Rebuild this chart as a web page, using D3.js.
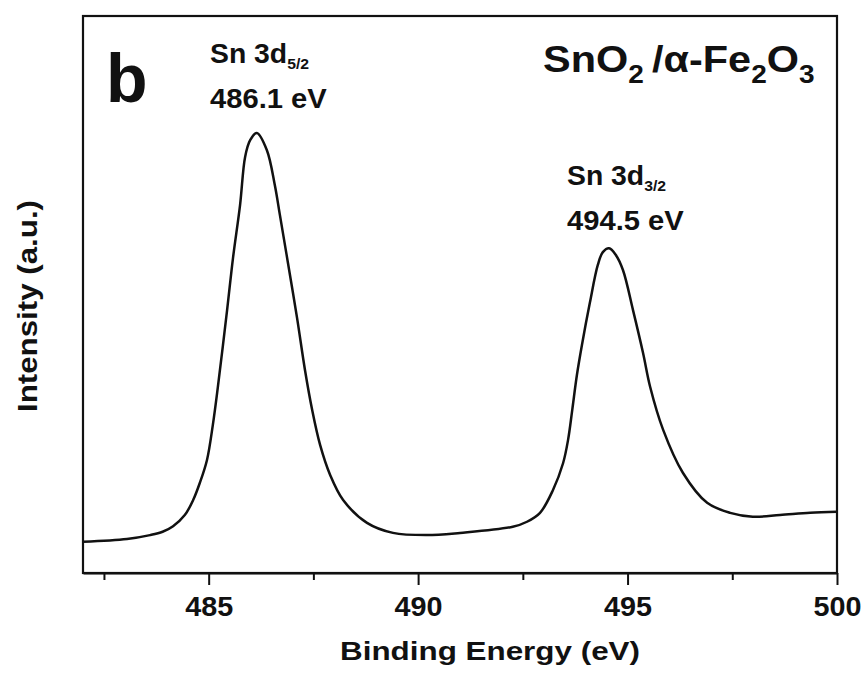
<!DOCTYPE html>
<html>
<head>
<meta charset="utf-8">
<script src="https://cdn.jsdelivr.net/npm/d3@7"></script>
<style>
  body { margin: 0; background: #fff; }
  text { font-family: "Liberation Sans", Arial, sans-serif; font-weight: bold; fill: #111; }
</style>
</head>
<body>
<div id="vis-container"></div>
<script>
// Spectrum (binding energy in eV, intensity in a.u.)
const energy = [482.0, 483.05, 483.6, 483.9, 484.15, 484.43, 484.63, 484.79, 484.96, 485.10, 485.22,
                485.44, 485.58, 485.75, 485.87, 485.99, 486.15, 486.39, 486.58, 486.70, 486.89,
                487.11, 487.30, 487.47, 487.66, 487.90, 488.21, 488.78, 489.40, 490.21, 491.0,
                492.26, 492.6, 492.91, 493.22, 493.46, 493.58, 493.68, 493.79, 493.91, 494.10, 494.29,
                494.41, 494.56, 494.72, 494.89, 495.13, 495.37, 495.54, 495.85, 496.32, 496.90,
                497.45, 497.99, 498.64, 499.36, 500.0];
const intensity = [56, 61, 68, 74, 84, 104, 131, 162, 203, 266, 334,
                   472, 565, 661, 747, 777, 790, 759, 696, 643, 558,
                   458, 364, 293, 230, 176, 131, 90, 72, 68, 72,
                   83, 92, 108, 149, 197, 239, 293, 355, 409, 485, 553,
                   576, 583, 571, 544, 472, 395, 334, 257, 180, 126,
                   108, 101, 104, 108, 110];

const majorTicks = [485, 490, 495, 500];
const minorTicks = [482.5, 487.5, 492.5, 497.5];

const width = 866;
const height = 673;
const margin = { top: 16, right: 29, bottom: 100, left: 83 };

const svg = d3.select("#vis-container")
              .append("svg")
              .attr("width", width)
              .attr("height", height);

const x = d3.scaleLinear()
    .domain([482, 500])
    .range([margin.left, width - margin.right]);

const y = d3.scaleLinear()
    .domain([0, 1000])
    .range([height - margin.bottom, margin.top]);

const bottom = height - margin.bottom;

// Frame
svg.append("rect")
    .attr("x", margin.left)
    .attr("y", margin.top)
    .attr("width", width - margin.left - margin.right)
    .attr("height", bottom - margin.top)
    .attr("fill", "none")
    .attr("stroke", "#111")
    .attr("stroke-width", 2.2);

// Minor ticks
svg.append("g")
    .attr("transform", `translate(0,${bottom})`)
    .call(d3.axisBottom(x).tickValues(minorTicks).tickSize(7).tickSizeOuter(0).tickFormat(""))
    .call(g => g.select(".domain").remove())
    .call(g => g.selectAll("line").attr("stroke", "#111").attr("stroke-width", 2));

// Major ticks + labels
svg.append("g")
    .attr("transform", `translate(0,${bottom})`)
    .call(d3.axisBottom(x).tickValues(majorTicks).tickSize(12).tickSizeOuter(0).tickFormat(d3.format("d")))
    .call(g => g.select(".domain").attr("stroke", "#111").attr("stroke-width", 2.2))
    .call(g => g.selectAll("line").attr("stroke", "#111").attr("stroke-width", 2))
    .call(g => g.selectAll("text")
        .attr("y", 43)
        .attr("dy", null)
        .attr("font-size", "27px")
        .attr("textLength", 48)
        .attr("lengthAdjust", "spacingAndGlyphs")
        .attr("fill", "#111")
        .attr("font-family", "Liberation Sans, Arial, sans-serif")
        .attr("font-weight", "bold"));

// Spectrum line
const line = d3.line()
    .x((d, i) => x(energy[i]))
    .y(d => y(d))
    .curve(d3.curveCatmullRom.alpha(0.5));

svg.append("path")
    .datum(intensity)
    .attr("fill", "none")
    .attr("stroke", "#111")
    .attr("stroke-width", 2.5)
    .attr("stroke-linejoin", "round")
    .attr("d", line);

// Axis titles
svg.append("text")
    .attr("x", 490)
    .attr("y", 660)
    .attr("text-anchor", "middle")
    .attr("font-size", "26px")
    .attr("textLength", 300)
    .attr("lengthAdjust", "spacingAndGlyphs")
    .text("Binding Energy (eV)");

svg.append("text")
    .attr("transform", "translate(37,306) rotate(-90)")
    .attr("text-anchor", "middle")
    .attr("font-size", "28px")
    .attr("textLength", 212)
    .attr("lengthAdjust", "spacingAndGlyphs")
    .text("Intensity (a.u.)");

// Panel letter
svg.append("text")
    .attr("x", 106)
    .attr("y", 102)
    .attr("font-size", "68px")
    .text("b");

// Text with subscripts, slightly stretched sideways like the original
function subText(xPos, yPos, size, subSize, sx, parts) {
    const t = svg.append("text")
        .attr("transform", `translate(${xPos},${yPos}) scale(${sx},1)`)
        .attr("font-size", size + "px");
    let low = false;
    parts.forEach(p => {
        if (p.sub) {
            t.append("tspan").attr("font-size", subSize + "px").attr("dy", low ? 0 : subSize * 0.42).text(p.sub);
            low = true;
        } else {
            t.append("tspan").attr("dy", low ? -subSize * 0.42 : 0).text(p.t);
            low = false;
        }
    });
    return t;
}

subText(210, 63, 27, 15, 1.05, [{ t: "Sn 3d" }, { sub: "5/2" }]);
subText(210, 108, 27, 15, 1.08, [{ t: "486.1 eV" }]);
subText(567, 185, 27, 15, 1.05, [{ t: "Sn 3d" }, { sub: "3/2" }]);
subText(567, 230, 27, 15, 1.08, [{ t: "494.5 eV" }]);
subText(543, 72, 37, 25, 1.12, [{ t: "SnO" }, { sub: "2" }, { t: "\u2009/α-Fe" }, { sub: "2" }, { t: "O" }, { sub: "3" }]);
</script>
</body>
</html>
